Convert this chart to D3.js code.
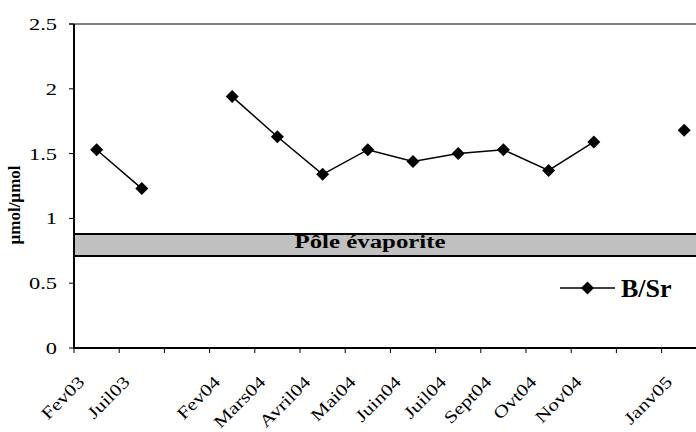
<!DOCTYPE html>
<html>
<head>
<meta charset="utf-8">
<script src="https://cdn.jsdelivr.net/npm/d3@7"></script>
<style>
  body { margin: 0; background: #fff; }
  svg { display: block; }
</style>
</head>
<body>
<script>
const categories = ["Fev03", "Juil03", "", "Fev04", "Mars04", "Avril04", "Mai04", "Juin04", "Juil04", "Sept04", "Ovt04", "Nov04", "", "Janv05"];
const values = [1.53, 1.23, null, 1.94, 1.63, 1.34, 1.53, 1.44, 1.50, 1.53, 1.37, 1.59, null, 1.68];
const yTicks = [0, 0.5, 1, 1.5, 2, 2.5];
const bandRange = [0.71, 0.88];
const bandLabel = "Pôle évaporite";
const seriesName = "B/Sr";
const yTitle = "µmol/µmol";

const FONT = "'Liberation Serif', 'Times New Roman', serif";
const W = 696, H = 432;
const svg = d3.select("body").append("svg").attr("width", W).attr("height", H)
  .attr("font-family", FONT);

const left = 74, bw = 45.2;
const x = d3.scaleBand().domain(d3.range(categories.length)).range([left, left + bw * categories.length]).padding(0);
const y = d3.scaleLinear().domain([0, 2.5]).range([348, 24]);
const right = left + bw * categories.length;

// evaporite band
svg.append("rect")
  .attr("x", left).attr("width", right - left)
  .attr("y", y(bandRange[1])).attr("height", y(bandRange[0]) - y(bandRange[1]))
  .attr("fill", "#c0c0c0");
bandRange.forEach(v => {
  svg.append("line").attr("x1", left).attr("x2", right)
    .attr("y1", y(v)).attr("y2", y(v)).attr("stroke", "#000").attr("stroke-width", 2);
});
svg.append("text")
  .attr("transform", `translate(370,248) scale(1.38,1)`)
  .attr("text-anchor", "middle").attr("font-weight", "bold").attr("font-size", 18)
  .text(bandLabel);

// top border
svg.append("line").attr("x1", 69).attr("x2", right).attr("y1", y(2.5)).attr("y2", y(2.5))
  .attr("stroke", "#000").attr("stroke-width", 1);

// y ticks
yTicks.forEach(t => {
  svg.append("line").attr("x1", 69).attr("x2", left).attr("y1", y(t)).attr("y2", y(t))
    .attr("stroke", "#000").attr("stroke-width", 1);
  svg.append("text").attr("transform", `translate(57,${y(t) + 6}) scale(1.32,1)`)
    .attr("text-anchor", "end").attr("font-size", 17).text(String(t));
});

// x ticks (between categories)
d3.range(categories.length + 1).forEach(i => {
  const xx = left + i * bw;
  svg.append("line").attr("x1", xx).attr("x2", xx).attr("y1", y(0)).attr("y2", y(0) + 5)
    .attr("stroke", "#000").attr("stroke-width", 1);
});
categories.forEach((c, i) => {
  if (!c) return;
  const cx = x(i) + x.bandwidth() / 2;
  svg.append("text")
    .attr("transform", `translate(${cx - 11},${383}) rotate(-45) scale(1.25,1)`)
    .attr("text-anchor", "end").attr("font-size", 17).text(c);
});

// axes lines
svg.append("line").attr("x1", left).attr("x2", left).attr("y1", y(2.5)).attr("y2", y(0) + 1)
  .attr("stroke", "#000").attr("stroke-width", 2);
svg.append("line").attr("x1", left - 1).attr("x2", right).attr("y1", y(0)).attr("y2", y(0))
  .attr("stroke", "#000").attr("stroke-width", 2);

// y title
svg.append("text")
  .attr("transform", `translate(20,205) rotate(-90)`)
  .attr("text-anchor", "middle").attr("font-weight", "bold").attr("font-size", 17)
  .text(yTitle);

// series
const data = values.map((v, i) => ({ i, v }));
const line = d3.line()
  .defined(d => d.v != null)
  .x(d => x(d.i) + x.bandwidth() / 2)
  .y(d => y(d.v));
svg.append("path").datum(data).attr("d", line)
  .attr("fill", "none").attr("stroke", "#000").attr("stroke-width", 1.5);

const diamond = (cx, cy, r) => `M${cx},${cy - r}L${cx + r},${cy}L${cx},${cy + r}L${cx - r},${cy}Z`;
svg.selectAll("path.pt").data(data.filter(d => d.v != null)).enter()
  .append("path").attr("class", "pt")
  .attr("d", d => diamond(x(d.i) + x.bandwidth() / 2, y(d.v), 6.5))
  .attr("fill", "#000");

// legend
svg.append("line").attr("x1", 560).attr("x2", 615).attr("y1", 288).attr("y2", 288)
  .attr("stroke", "#000").attr("stroke-width", 1.5);
svg.append("path").attr("d", diamond(587.5, 288, 6.5)).attr("fill", "#000");
svg.append("text").attr("x", 621).attr("y", 297)
  .attr("font-weight", "bold").attr("font-size", 26).text(seriesName);
</script>
</body>
</html>
